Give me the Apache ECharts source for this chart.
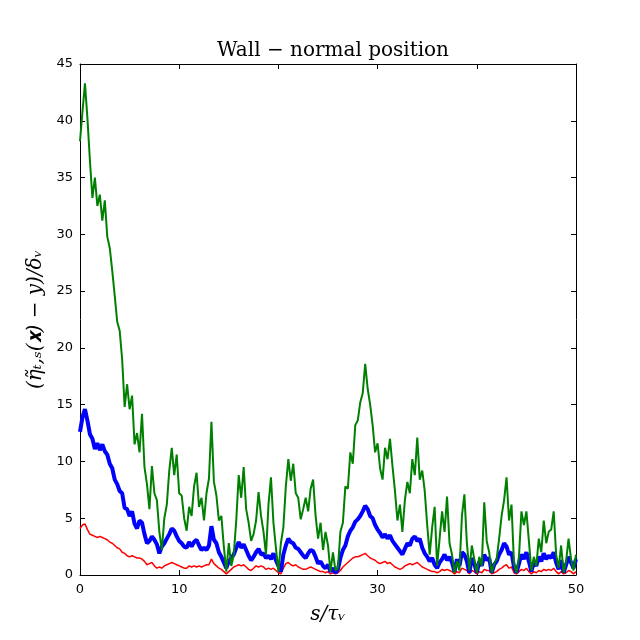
<!DOCTYPE html>
<html>
<head>
<meta charset="utf-8">
<script src="https://cdn.jsdelivr.net/npm/echarts@6/dist/echarts.min.js"></script>
<style>
  html, body { margin: 0; padding: 0; background: #fff; }
  #chart { width: 640px; height: 640px; }
</style>
</head>
<body>
<div id="chart"></div>
<script>
// sample step along s/tau_nu (values below are read every 0.25)
const step = 0.25;

// red trace
const redValues = [
  4.1, 4.4, 4.5, 4.0, 3.6, 3.5, 3.4, 3.3, 3.4, 3.3, 3.2, 3.1, 2.9, 2.8, 2.6, 2.4, 2.3, 2.0, 1.9, 1.7,
  1.6, 1.7, 1.6, 1.5, 1.5, 1.4, 1.2, 0.9, 1.0, 1.1, 0.8, 0.6, 0.7, 0.6, 0.8, 0.9, 1.0, 1.1, 1.0, 0.9,
  0.8, 0.7, 0.6, 0.6, 0.8, 0.7, 0.8, 0.7, 0.8, 0.7, 0.8, 0.9, 0.9, 1.4, 1.0, 0.8, 0.6, 0.5, 0.3, 0.1,
  0.3, 0.5, 0.7, 0.8, 0.9, 0.8, 0.9, 0.7, 0.5, 0.4, 0.6, 0.8, 0.7, 0.8, 0.7, 0.5, 0.6, 0.5, 0.6, 0.4,
  0.2, 0.1, 0.6, 1.0, 1.1, 0.9, 0.8, 0.9, 0.7, 0.6, 0.5, 0.5, 0.6, 0.7, 0.6, 0.5, 0.4, 0.3, 0.3, 0.2,
  0.3, 0.1, 0.2, 0.1, 0.2, 0.4, 0.7, 0.9, 1.1, 1.3, 1.5, 1.6, 1.6, 1.7, 1.8, 1.9, 1.7, 1.5, 1.4, 1.3,
  1.1, 1.0, 1.1, 1.2, 1.0, 1.1, 0.9, 0.7, 0.6, 0.5, 0.6, 0.8, 0.9, 1.0, 0.9, 1.0, 1.1, 0.9, 0.7, 0.6,
  0.5, 0.4, 0.3, 0.3, 0.2, 0.3, 0.5, 0.4, 0.5, 0.4, 0.3, 0.1, 0.3, 0.2, 0.6, 0.5, 0.4, 0.1, 0.4, 0.3,
  0.1, 0.3, 0.2, 0.5, 0.4, 0.4, 0.1, 0.2, 0.3, 0.5, 0.6, 0.8, 0.9, 0.6, 0.7, 0.2, 0.1, 0.3, 0.5, 0.4,
  0.6, 0.3, 0.1, 0.3, 0.2, 0.4, 0.3, 0.5, 0.4, 0.5, 0.4, 0.6, 0.3, 0.1, 0.3, 0.1, 0.2, 0.4, 0.3, 0.1,
  0.3
];

// blue trace
const blueValues = [
  12.6, 13.9, 14.6, 13.6, 12.4, 12.0, 11.1, 11.6, 11.0, 11.5, 10.9, 10.6, 9.8, 9.4, 8.4, 8.0, 7.4, 7.2, 5.9, 5.8,
  5.2, 5.6, 4.5, 4.1, 4.8, 4.6, 3.6, 2.8, 3.0, 3.4, 3.1, 2.7, 1.9, 2.5, 2.8, 3.2, 3.6, 4.1, 3.9, 3.4,
  3.0, 2.8, 2.5, 2.4, 2.9, 2.5, 2.9, 3.1, 2.6, 2.2, 2.4, 2.2, 2.6, 4.3, 3.1, 2.8, 2.0, 1.6, 1.1, 0.6,
  1.2, 1.5, 1.8, 2.4, 2.9, 2.4, 2.7, 2.2, 1.7, 1.3, 1.6, 2.0, 2.3, 1.8, 1.9, 1.5, 1.7, 1.4, 1.9, 1.3,
  0.8, 0.3, 1.8, 2.6, 3.2, 2.9, 2.8, 2.4, 2.3, 2.0, 1.7, 1.5, 1.9, 2.2, 2.1, 1.6, 1.0, 1.2, 0.8, 0.6,
  0.9, 0.3, 0.6, 0.2, 0.5, 1.5, 2.2, 2.6, 3.4, 3.9, 4.2, 4.7, 4.9, 5.2, 5.6, 6.1, 5.8, 5.2, 5.0, 4.4,
  4.0, 3.7, 3.3, 3.6, 3.2, 3.5, 3.0, 2.7, 2.4, 2.1, 1.8, 2.3, 2.8, 2.6, 3.2, 3.4, 3.0, 3.2, 2.4, 1.9,
  1.6, 1.2, 1.5, 0.9, 0.6, 1.1, 1.4, 1.8, 1.3, 1.6, 1.1, 0.3, 1.4, 0.8, 2.0, 1.8, 1.2, 0.2, 1.5, 1.0,
  0.2, 1.2, 0.8, 1.8, 1.3, 1.5, 0.2, 0.9, 1.2, 1.8, 2.2, 2.8, 2.5, 1.8, 2.0, 0.7, 0.2, 1.0, 1.8, 1.4,
  2.0, 1.2, 0.3, 1.1, 0.8, 1.6, 1.2, 1.9, 1.4, 1.7, 1.5, 2.0, 1.1, 0.5, 1.3, 0.2, 0.9, 1.6, 1.1, 0.6,
  1.4
];

// green trace
const greenValues = [
  38.2, 40.8, 43.3, 40.2, 36.5, 33.2, 35.0, 32.5, 33.5, 31.2, 33.0, 29.8, 28.8, 26.8, 24.6, 22.3, 21.5, 19.0, 14.8, 16.8,
  14.6, 15.8, 11.5, 12.5, 10.8, 14.2, 9.5, 8.0, 5.8, 9.6, 7.2, 6.6, 3.8, 2.2, 5.0, 6.2, 9.2, 11.2, 8.8, 10.6,
  7.2, 7.0, 5.0, 3.9, 6.0, 5.2, 7.8, 9.0, 6.0, 6.8, 4.8, 7.2, 8.5, 13.5, 8.2, 7.0, 4.8, 5.2, 2.5, 0.3,
  2.8, 0.8, 1.8, 4.8, 8.8, 6.8, 9.5, 5.8, 4.6, 3.0, 3.6, 4.8, 7.3, 5.2, 3.8, 1.8, 6.2, 8.6, 4.6, 2.4,
  0.3, 2.8, 4.2, 7.8, 10.2, 8.3, 9.8, 7.2, 6.8, 4.9, 5.8, 6.8, 5.6, 7.6, 8.4, 5.2, 3.2, 4.6, 2.2, 3.8,
  2.6, 0.3, 2.0, 0.4, 0.6, 3.8, 4.6, 7.8, 7.6, 10.8, 9.8, 13.2, 13.6, 15.2, 16.0, 18.6, 16.4, 15.0, 13.2, 10.8,
  11.6, 9.4, 8.4, 11.2, 10.2, 12.0, 9.6, 7.4, 4.8, 6.2, 3.8, 6.6, 8.2, 7.2, 10.2, 8.8, 12.1, 8.4, 9.2, 7.4,
  4.4, 1.8, 4.2, 6.0, 0.8, 3.2, 5.6, 3.8, 6.9, 2.8, 1.8, 0.2, 1.2, 0.4, 5.2, 7.1, 2.8, 0.4, 2.6, 1.4,
  0.2, 1.6, 0.8, 6.4, 3.0, 2.0, 0.2, 1.0, 1.4, 3.2, 5.2, 6.6, 8.6, 4.8, 6.2, 1.0, 0.2, 1.6, 5.6, 4.4,
  5.6, 3.0, 0.4, 1.6, 0.8, 3.2, 2.0, 4.8, 2.8, 3.8, 4.0, 5.6, 1.8, 0.6, 2.6, 0.2, 1.2, 3.2, 1.4, 0.4,
  1.8
];

const xTicks = [0, 10, 20, 30, 40, 50];
const yTicks = [0, 5, 10, 15, 20, 25, 30, 35, 40, 45];

const toPairs = (vals) => vals.map((v, i) => [i * step, v]);

const chart = echarts.init(document.getElementById('chart'), null, { renderer: 'canvas' });

// matplotlib-like frame: black spines, ticks pointing inward
const frameAxis = {
  axisLine: { show: true, onZero: false, lineStyle: { color: '#000', width: 1 } },
  axisTick: { show: true, inside: true, length: 5, lineStyle: { color: '#000' } },
  splitLine: { show: false }
};

chart.setOption({
  animation: false,
  backgroundColor: '#fff',
  title: {
    text: 'Wall \u2212 normal position',
    left: 328,
    textAlign: 'center',
    top: 36,
    textStyle: { fontFamily: 'DejaVu Serif', fontWeight: 'normal', fontSize: 20, color: '#000' }
  },
  grid: { left: 80, right: 64, top: 64, bottom: 65, containLabel: false },
  xAxis: [
    {
      ...frameAxis,
      type: 'value',
      min: 0, max: 50, interval: 10,
      axisLabel: { fontFamily: 'DejaVu Sans', fontSize: 13, color: '#000', margin: 8 },
      name: 's/\u03c4\u1d65',
      nameLocation: 'middle',
      nameGap: 30,
      nameTextStyle: { fontFamily: 'DejaVu Serif', fontStyle: 'italic', fontSize: 20, color: '#000' }
    },
    {
      ...frameAxis,
      type: 'value', position: 'top',
      min: 0, max: 50, interval: 10,
      axisLabel: { show: false }
    }
  ],
  yAxis: [
    {
      ...frameAxis,
      type: 'value',
      min: 0, max: 45, interval: 5,
      axisLabel: { fontFamily: 'DejaVu Sans', fontSize: 13, color: '#000', margin: 7 },
      name: '(\u03b7\u0303\u209c,\u209b(\ud835\udc31) \u2212 y)/\u03b4\u1d65',
      nameLocation: 'middle',
      nameRotate: 90,
      nameGap: 33,
      nameTextStyle: { fontFamily: 'DejaVu Serif', fontStyle: 'italic', fontSize: 20, color: '#000' }
    },
    {
      ...frameAxis,
      type: 'value', position: 'right',
      min: 0, max: 45, interval: 5,
      axisLabel: { show: false }
    }
  ],
  series: [
    {
      type: 'line', data: toPairs(redValues), showSymbol: false,
      lineStyle: { color: '#ff0000', width: 1.5 }, clip: true
    },
    {
      type: 'line', data: toPairs(blueValues), showSymbol: false,
      lineStyle: { color: '#0000ff', width: 4 }, clip: true
    },
    {
      type: 'line', data: toPairs(greenValues), showSymbol: false,
      lineStyle: { color: '#008000', width: 2 }, clip: true
    }
  ]
});
</script>
</body>
</html>
